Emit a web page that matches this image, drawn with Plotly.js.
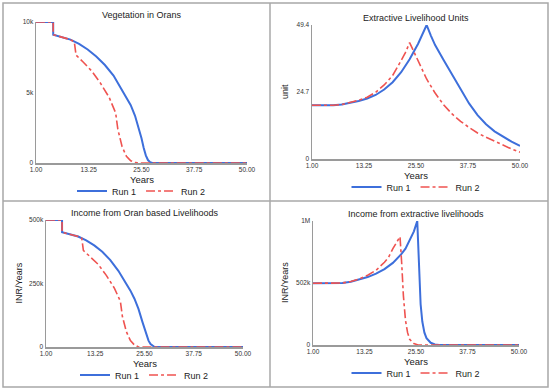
<!DOCTYPE html>
<html>
<head>
<meta charset="utf-8">
<script src="https://cdn.plot.ly/plotly-3.0.1.min.js"></script>
<style>html,body{margin:0;padding:0;background:#fff}#chart{width:550px;height:392px}</style>
</head>
<body>
<div id="chart"></div>
<script>
// ---- Data ----
const xTickVals = [1, 13.25, 25.5, 37.75, 50];
const xTickText = ['1.00', '13.25', '25.50', '37.75', '50.00'];

// Vegetation in Orans
const vegRun1Years = [1, 4.99, 5, 7, 9, 11, 13, 15, 17, 19, 21, 22, 23, 24, 25, 25.5, 26, 26.5, 27, 27.5, 28, 29, 50];
const vegRun1 = [10000, 10000, 9100, 8950, 8750, 8450, 8050, 7550, 6950, 6200, 5200, 4700, 4100, 3350, 2350, 1750, 1080, 540, 210, 60, 0, 0, 0];
const vegRun2Years = [1, 4.99, 5, 7, 9, 9.9, 10.3, 12, 14, 16, 18, 19.5, 20, 21, 22, 23, 24, 25, 50];
const vegRun2 = [10000, 10000, 9100, 8950, 8750, 8580, 7650, 7150, 6500, 5650, 4650, 3550, 2400, 1150, 480, 160, 30, 0, 0];

// Extractive Livelihood Units
const unitsRun1Years = [1, 4, 6, 8, 10, 12, 14, 16, 18, 20, 22, 24, 26, 27, 28, 29, 30, 32, 34, 36, 38, 40, 42, 44, 46, 48, 50];
const unitsRun1 = [19.8, 19.8, 19.8, 20.1, 20.7, 21.4, 22.3, 23.6, 25.6, 28.3, 32.0, 36.8, 42.5, 45.8, 49.4, 45.5, 42.0, 36.5, 31.0, 25.5, 20.5, 16.2, 12.8, 10.2, 8.2, 6.4, 4.8];
const unitsRun2Years = [1, 4, 6, 8, 10, 12, 14, 16, 18, 20, 22, 23, 24, 25, 26, 28, 30, 32, 34, 36, 38, 40, 42, 44, 46, 48, 50];
const unitsRun2 = [19.8, 19.8, 19.8, 20.1, 20.8, 21.7, 22.8, 24.6, 27.3, 30.8, 36.3, 39.2, 42.9, 39.5, 35.8, 29.5, 24.3, 20.0, 16.6, 13.9, 11.6, 9.6, 8.0, 6.5, 5.0, 3.7, 2.5];

// Income from Oran based Livelihoods (thousand INR/Years)
const oranRun1Years = [1, 4.99, 5, 7, 9, 11, 13, 15, 17, 19, 21, 22, 23, 24, 25, 25.5, 26, 26.5, 27, 28, 50];
const oranRun1K = [500, 500, 452, 445, 435, 420, 400, 375, 342, 300, 250, 222, 190, 150, 98, 72, 45, 25, 12, 0, 0];
const oranRun2Years = [1, 4.99, 5, 7, 9, 9.9, 10.3, 12, 14, 16, 18, 19.5, 20, 21, 22, 23, 24, 50];
const oranRun2K = [500, 500, 452, 445, 435, 428, 380, 355, 325, 282, 232, 180, 120, 60, 25, 8, 0, 0];

// Income from extractive livelihoods (thousand INR/Years)
const extRun1Years = [1, 6, 8, 10, 12, 14, 16, 18, 20, 22, 23, 24, 25, 25.8, 26.2, 26.6, 27, 27.5, 28, 29, 30, 31, 50];
const extRun1K = [500, 500, 502, 512, 528, 550, 578, 615, 665, 735, 780, 845, 920, 1004, 600, 330, 190, 100, 55, 18, 5, 0, 0];
const extRun2Years = [1, 6, 8, 10, 12, 14, 16, 18, 19, 20, 21, 21.7, 22.1, 22.5, 23, 23.5, 24, 25, 26, 50];
const extRun2K = [500, 500, 502, 514, 535, 565, 605, 670, 712, 780, 835, 877, 660, 400, 200, 100, 45, 12, 0, 0];

const panelTitles = ['Vegetation in Orans', 'Extractive Livelihood Units', 'Income from Oran based Livelihoods', 'Income from extractive livelihoods'];
const yTitles = ['', 'unit', 'INR/Years', 'INR/Years'];
const seriesNames = ['Run 1', 'Run 2'];

// ---- Layout geometry (pixels) ----
const W = 550, H = 392;
const px = v => v / W;
const py = v => 1 - v / H;
const panels = [
  {l: 36, r: 247, t: 22, b: 163, yr: [0, 10000], tv: [0, 5000, 10000], tt: ['0', '5k', '10k']},
  {l: 312, r: 520, t: 25, b: 159, yr: [0, 49.4], tv: [0, 24.7, 49.4], tt: ['0', '24.7', '49.4']},
  {l: 46, r: 243, t: 220, b: 347, yr: [0, 500000], tv: [0, 250000, 500000], tt: ['0', '250k', '500k']},
  {l: 313, r: 519, t: 221, b: 345, yr: [0, 1004000], tv: [0, 502000, 1004000], tt: ['0', '502k', '1M']}
];

const blue = '#3d6fdb', red = '#ef5350';
const k = arr => arr.map(v => v * 1000);
const seriesData = [
  [[vegRun1Years, vegRun1], [vegRun2Years, vegRun2]],
  [[unitsRun1Years, unitsRun1], [unitsRun2Years, unitsRun2]],
  [[oranRun1Years, k(oranRun1K)], [oranRun2Years, k(oranRun2K)]],
  [[extRun1Years, k(extRun1K)], [extRun2Years, k(extRun2K)]]
];

const traces = [];
const layout = {
  width: W, height: H,
  margin: {l: 0, r: 0, t: 0, b: 0},
  paper_bgcolor: '#fff', plot_bgcolor: '#fff',
  font: {family: 'Liberation Sans, Arial, sans-serif', color: '#222', size: 9},
  showlegend: true,
  annotations: [],
  shapes: []
};

seriesData.forEach((pair, i) => {
  const n = i + 1;
  const xa = n === 1 ? 'x' : 'x' + n;
  const ya = n === 1 ? 'y' : 'y' + n;
  const lg = n === 1 ? 'legend' : 'legend' + n;
  pair.forEach((s, j) => {
    traces.push({
      x: s[0], y: s[1], type: 'scatter', mode: 'lines',
      name: seriesNames[j], xaxis: xa, yaxis: ya, legend: lg,
      line: j === 0 ? {color: blue, width: 2} : {color: red, width: 1.6, dash: 'dashdot'},
      hoverinfo: 'skip'
    });
  });
  const p = panels[i];
  const axBase = {
    showline: true, linecolor: '#9a9a9a', linewidth: 1.5,
    showgrid: false, zeroline: false, ticks: '', fixedrange: true,
    tickfont: {size: 6.5, color: '#333'}
  };
  layout['xaxis' + (n === 1 ? '' : n)] = Object.assign({}, axBase, {
    domain: [px(p.l), px(p.r)], anchor: ya, range: [1, 50],
    tickmode: 'array', tickvals: xTickVals, ticktext: xTickText
  });
  layout['yaxis' + (n === 1 ? '' : n)] = Object.assign({}, axBase, {
    domain: [py(p.b), py(p.t)], anchor: xa, range: p.yr,
    tickmode: 'array', tickvals: p.tv, ticktext: p.tt
  });
  const cx = (p.l + p.r) / 2;
  layout[lg] = {
    orientation: 'h', x: px(cx), xanchor: 'center', y: py(p.b + 28), yanchor: 'middle',
    font: {size: 9, color: '#222'}, bgcolor: 'rgba(0,0,0,0)', itemwidth: 30, tracegroupgap: 0
  };
  layout.annotations.push({
    text: panelTitles[i], xref: 'paper', yref: 'paper', x: px(cx), y: py(p.t - 7),
    xanchor: 'center', yanchor: 'middle', showarrow: false, font: {size: 9, color: '#222'}
  });
  layout.annotations.push({
    text: 'Years', xref: 'paper', yref: 'paper', x: px(cx), y: py(p.b + 16),
    xanchor: 'center', yanchor: 'middle', showarrow: false, font: {size: 9.5, color: '#222'}
  });
  if (yTitles[i]) {
    layout.annotations.push({
      text: yTitles[i], xref: 'paper', yref: 'paper', x: px(i === 2 ? 18 : 285), y: py((p.t + p.b) / 2),
      xanchor: 'center', yanchor: 'middle', textangle: -90, showarrow: false, font: {size: 9, color: '#222'}
    });
  }
});

// Panel frame
const frame = {color: '#a8a8a8', width: 1.5};
layout.shapes.push({type: 'rect', xref: 'paper', yref: 'paper', x0: px(3), x1: px(548), y0: py(3), y1: py(387), line: frame});
layout.shapes.push({type: 'line', xref: 'paper', yref: 'paper', x0: px(270), x1: px(270), y0: py(3), y1: py(387), line: frame});
layout.shapes.push({type: 'line', xref: 'paper', yref: 'paper', x0: px(3), x1: px(548), y0: py(201), y1: py(201), line: frame});

Plotly.newPlot('chart', traces, layout, {staticPlot: true, displayModeBar: false});
</script>
</body>
</html>
